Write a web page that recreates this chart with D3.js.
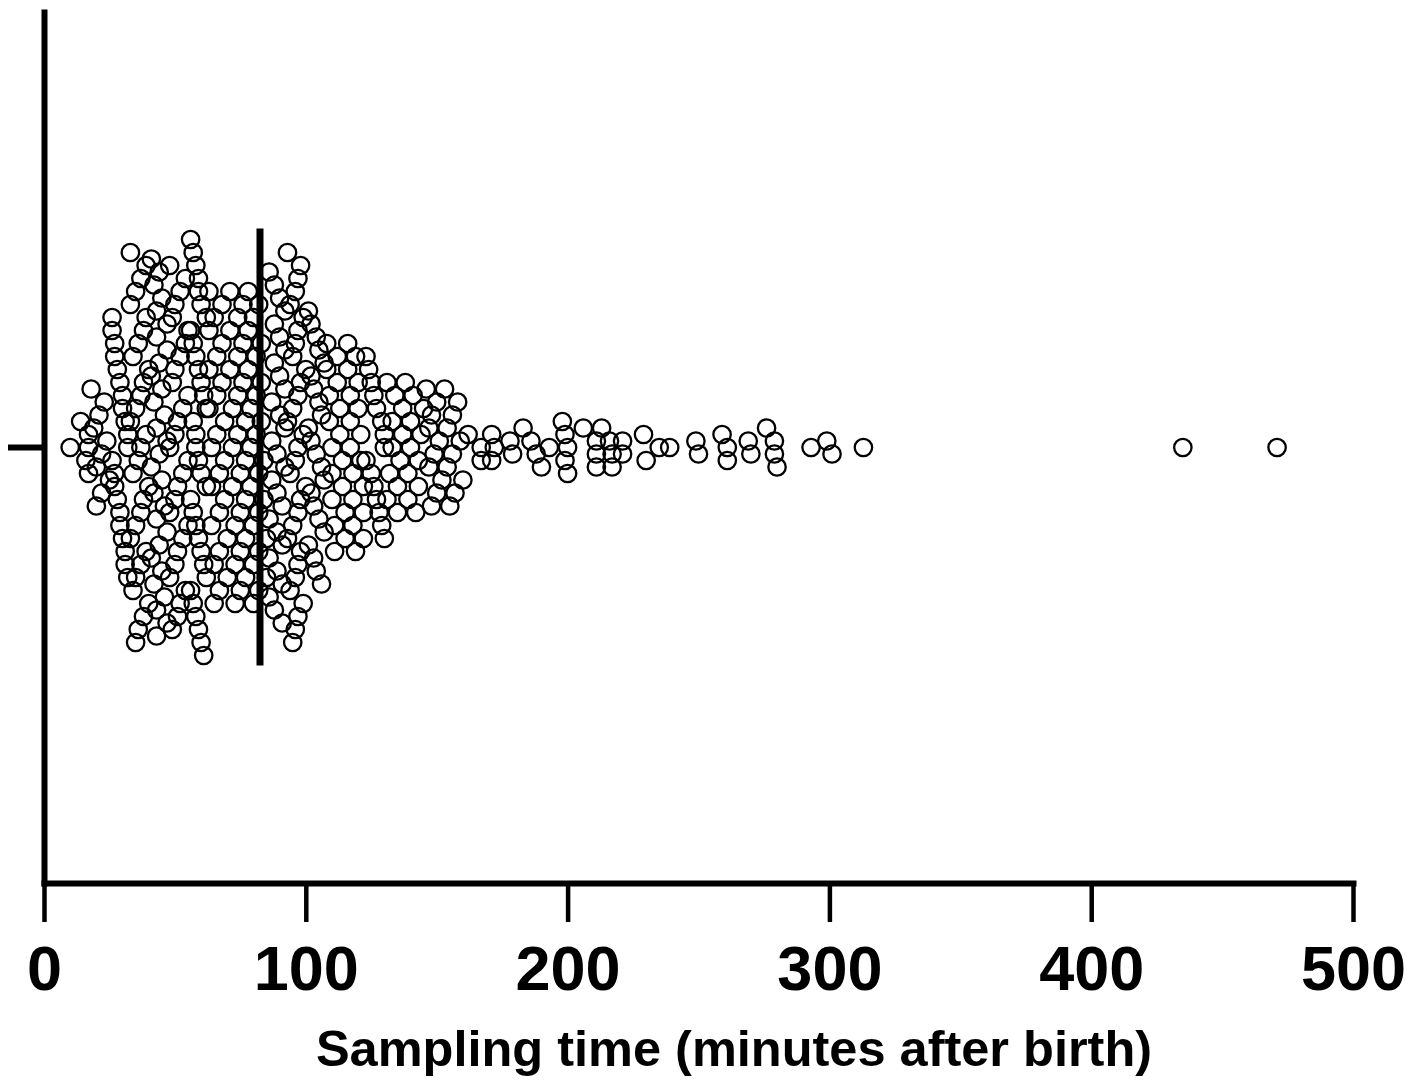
<!DOCTYPE html>
<html>
<head>
<meta charset="utf-8">
<script src="https://cdn.jsdelivr.net/npm/d3@7"></script>
<style>
  body { margin: 0; background: #fff; }
  text { font-family: "Liberation Sans", Arial, sans-serif; font-weight: bold; fill: #000; }
</style>
</head>
<body>
<div id="chart"></div>
<script>
// Sampling times (minutes after birth), one entry per infant.
const samplingTimes = [
  10,
  14, 16, 17, 17, 17,
  18, 19, 20, 20, 21, 22, 22, 23, 24, 25,
  26, 26, 26, 27, 27, 27, 27, 28, 28, 29, 29, 29, 30, 30, 30, 31, 31, 31, 32, 32, 32,
  33, 33, 33, 33, 34, 34, 34, 35, 35, 35, 35, 35, 36, 36, 36, 37, 37, 37, 37, 37,
  38, 38, 38, 38, 39, 39, 39, 39, 40, 40, 40,
  41, 41, 41, 41, 42, 42, 42, 42, 43, 43, 43, 43, 43, 43, 44, 44, 44, 44,
  45, 45, 45, 45, 46, 46, 46, 47, 47, 47, 47, 47,
  48, 48, 48, 48, 49, 49, 49, 50, 50, 50, 50, 50, 51, 51, 51, 51,
  52, 52, 52, 53, 53, 53, 54, 54, 54, 55, 55, 55, 55,
  56, 56, 56, 56, 57, 57, 57, 57, 57, 58, 58, 58, 58, 58, 58, 59, 59, 59, 59, 59, 59,
  60, 60, 60, 60, 60, 61, 61, 61, 62, 62, 62, 62,
  63, 63, 63, 63, 64, 64, 64, 65, 65, 65, 66, 66, 66, 67, 67, 67, 67,
  68, 68, 68, 69, 69, 69, 70, 70,
  71, 71, 71, 72, 72, 72, 73, 73, 73, 74, 74, 74, 74, 75, 75, 75, 75,
  76, 76, 76, 77, 77, 77, 77, 77,
  78, 78, 78, 79, 79, 79, 80, 80, 80, 80, 81, 81, 81, 82, 82, 82, 82, 82,
  83, 83, 83, 84, 84, 85, 85,
  86, 86, 86, 86, 87, 87, 87, 88, 88, 88, 88, 89, 89, 89, 89,
  90, 90, 90, 90, 91, 91, 91, 91, 92, 92, 92, 92, 92,
  93, 93, 93, 94, 94, 94, 95, 95, 95, 95, 96, 96, 96, 96, 96,
  97, 97, 97, 97, 97, 97, 97, 98, 98, 98, 98, 99, 99, 99, 100, 100,
  101, 101, 101, 102, 102, 102, 102, 103, 103, 103, 104, 104, 104,
  105, 105, 105, 106, 106, 106, 107, 107, 107,
  108, 108, 109, 109, 110, 110, 110, 111, 111, 112, 112, 113, 113, 114, 114, 115, 115,
  116, 116, 117, 117, 117, 118, 118, 118, 119, 119, 120, 120, 121, 121, 122, 122, 122,
  123, 123, 124, 125, 125, 126, 126, 127, 127, 128, 129, 129, 130, 130, 130,
  131, 131, 132, 133, 133, 134, 135, 135, 136, 137, 137,
  138, 139, 139, 140, 140, 141, 142, 143, 143, 144, 145,
  146, 147, 147, 148, 148, 149, 150, 150, 151, 152,
  153, 154, 154, 155, 156, 156, 157, 158, 159, 160,
  162, 167, 167,
  171, 171, 172, 178, 179, 183, 186, 188, 190, 193, 198, 199, 199, 200, 200,
  206, 211, 211, 211, 213, 216, 217, 217, 221, 221, 229, 230, 235, 239, 249, 250,
  259, 261, 261, 269, 270, 276, 279, 279, 280, 293, 299, 301, 313, 435, 471
];
const groupLabels = [''];
const xTicks = [0, 100, 200, 300, 400, 500];
const xTitle = 'Sampling time (minutes after birth)';

const width = 1425, height = 1080;
const margin = { top: 12, right: 72, bottom: 197, left: 44 };

const svg = d3.select('#chart')
  .append('svg')
  .attr('width', width)
  .attr('height', height);

const x = d3.scaleLinear()
  .domain([0, 500])
  .range([margin.left, width - margin.right]);

const y = d3.scaleBand()
  .domain(groupLabels)
  .range([height - margin.bottom, margin.top]);

const yMid = y('') + y.bandwidth() / 2;

// Prism style scatter: values are binned, each bin is stacked centred on the group line.
const symbolR = 8.7;
const rowStep = 13;
const binWidth = 7.5;

const bins = d3.bin()
  .domain(x.domain())
  .thresholds(d3.range(3, 500, binWidth))(samplingTimes);

const dots = [];
bins.forEach((b) => {
  const n = b.length;
  const sorted = b.slice().sort(d3.ascending);
  sorted.forEach((v, i) => {
    const slot = (i * 53) % n; // spread neighbours over the stack
    dots.push({ value: v, offset: (slot - (n - 1) / 2) * rowStep });
  });
});

svg.append('g')
  .classed('dots', true)
  .selectAll('circle')
  .data(dots)
  .join('circle')
  .attr('cx', (d) => x(d.value))
  .attr('cy', (d) => yMid + d.offset)
  .attr('r', symbolR)
  .attr('fill', 'none')
  .attr('stroke', '#000')
  .attr('stroke-width', 2.3);

// Median line.
const median = d3.median(samplingTimes);
svg.append('line')
  .attr('x1', x(median))
  .attr('x2', x(median))
  .attr('y1', yMid - 219)
  .attr('y2', yMid + 218)
  .attr('stroke', '#000')
  .attr('stroke-width', 7);

// Axes.
const xAxis = svg.append('g')
  .attr('transform', `translate(0,${height - margin.bottom})`)
  .call(d3.axisBottom(x).tickValues(xTicks).tickSize(39).tickSizeOuter(0).tickPadding(23));

xAxis.select('.domain').attr('stroke-width', 6).attr('stroke-linecap', 'square');
xAxis.selectAll('.tick line').attr('stroke-width', 4.5);
xAxis.selectAll('.tick text')
  .style('font-size', '63px')
  .style('font-family', '"Liberation Sans", Arial, sans-serif')
  .style('font-weight', 'bold');

const yAxis = svg.append('g')
  .attr('transform', `translate(${margin.left},0)`)
  .call(d3.axisLeft(y).tickSize(36).tickSizeOuter(0));

yAxis.select('.domain').attr('stroke-width', 6).attr('stroke-linecap', 'square');
yAxis.selectAll('.tick line').attr('stroke-width', 6);
yAxis.selectAll('.tick text').remove();

svg.append('text')
  .attr('x', 734)
  .attr('y', 1066)
  .attr('text-anchor', 'middle')
  .style('font-size', '50.5px')
  .text(xTitle);
</script>
</body>
</html>
